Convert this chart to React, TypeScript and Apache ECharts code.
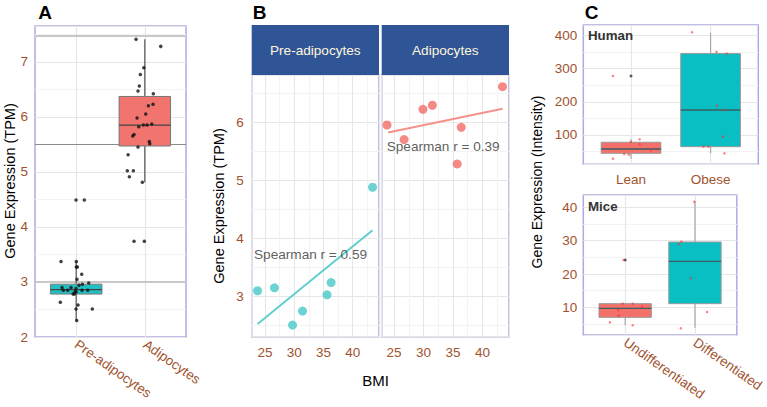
import React, { useEffect, useRef } from 'react';
import * as echarts from 'echarts';

// ---------- Panel A ----------
const groupsA = ['Pre-adipocytes', 'Adipocytes'];
// [lo, q1, median, q3, hi]
const boxPreA = [2.30, 2.78, 2.86, 2.96, 3.37];
const boxAdiA = [4.81, 5.47, 5.85, 6.37, 7.41];
const jitterPreA: number[][] = [
  [0.998, 4.49], [1.119, 4.49], [0.779, 3.37], [1.002, 3.37], [1.002, 3.27], [1.017, 3.27],
  [1.081, 3.14], [1.012, 3.05], [1.183, 2.98], [1.09, 2.96], [1.041, 2.94], [0.794, 2.90],
  [0.925, 2.90], [0.998, 2.88], [0.813, 2.85], [0.877, 2.85], [1.085, 2.85], [1.168, 2.85],
  [0.983, 2.82], [0.998, 2.82], [0.954, 2.78], [0.973, 2.78], [0.769, 2.63], [1.027, 2.58],
  [1.235, 2.51], [0.998, 2.51], [1.008, 2.30],
];
const jitterAdiA: number[][] = [
  [1.872, 7.41], [2.232, 7.28], [1.985, 6.89], [1.935, 6.77], [1.920, 6.56], [1.901, 6.47],
  [2.124, 6.42], [2.120, 6.23], [2.052, 6.20], [2.014, 6.05], [1.887, 5.98], [2.101, 5.87],
  [2.033, 5.85], [1.979, 5.85], [1.912, 5.82], [1.843, 5.68], [1.824, 5.65], [2.066, 5.55],
  [2.072, 5.51], [1.901, 5.45], [1.756, 5.31], [1.745, 5.02], [1.833, 5.02], [1.775, 4.91],
  [1.964, 4.81], [1.843, 3.74], [1.993, 3.74],
];
const refLinesA = [7.47, 5.5, 3.0];

// ---------- Panel B ----------
const facetsB = ['Pre-adipocytes', 'Adipocytes'];
const bmiPre = [23.7, 26.6, 29.7, 31.4, 35.6, 36.3, 43.4];
const exprPre = [3.10, 3.15, 2.51, 2.75, 3.03, 3.24, 4.88];
const bmiAdi = [23.8, 26.7, 29.9, 31.5, 36.4, 35.7, 43.4];
const exprAdi = [5.95, 5.70, 6.22, 6.29, 5.91, 5.28, 6.61];
const fitPre = [[23.7, 2.53], [43.4, 4.14]];
const fitAdi = [[24.0, 5.82], [43.4, 6.23]];
const rPre = 0.59;
const rAdi = 0.39;
const labelPosPre = [23.1, 3.72];
const labelPosAdi = [23.75, 5.58];

// ---------- Panel C ----------
const groupsHuman = ['Lean', 'Obese'];
const boxLean = [28.4, 44.7, 57.7, 78, 87];
const boxObese = [44.7, 64.7, 175.5, 345.6, 408];
const jitterLean: number[][] = [
  [0.773, 278], [0.998, 79], [1.108, 87], [1.108, 72], [0.914, 42.6], [0.973, 40.5], [0.773, 28.4], [1.249, 53.8],
];
const jitterObese: number[][] = [
  [1.768, 410], [2.074, 351], [2.203, 346], [2.081, 188.5], [2.165, 175.5], [2.157, 95], [1.911, 64.7], [1.973, 64.7], [2.174, 44.7],
];
const outliersHuman = [[1, 278]];

const groupsMice = ['Undifferentiated', 'Differentiated'];
const boxUndiff = [4.6, 7.0, 9.7, 11.1, 11.1];
const boxDiff = [3.9, 11.1, 23.8, 29.6, 41.7];
const jitterUndiff: number[][] = [
  [0.977, 24.2], [0.965, 11.1], [1.108, 11.1], [1.241, 10.2], [0.898, 9.2], [0.907, 7.5], [0.781, 5.5], [1.108, 4.6],
];
const jitterDiff: number[][] = [
  [1.99, 41.7], [1.805, 29.7], [1.768, 28.9], [1.94, 18.7], [2.174, 8.6], [1.798, 3.7],
];
const outliersMice = [[1, 24.2]];

const FONT = 'Liberation Sans, Arial, sans-serif';
const BROWN = '#A0522D';
const SALMON = '#F1756E';
const TEAL = '#22BFC2';
const BORDER = '#ABABE3';
const GRIDC = '#E6E6E6';
const MINORC = '#F3F3F3';

function boxRender(colors: string[], stroke: string, whisker: string, median: string) {
  return (params: any, api: any) => {
    const x = api.value(0);
    const lo = api.value(1), q1 = api.value(2), med = api.value(3), q3 = api.value(4), hi = api.value(5);
    const hw = 0.375;
    const a = api.coord([x - hw, q3]);
    const b = api.coord([x + hw, q1]);
    const m1 = api.coord([x - hw, med]);
    const m2 = api.coord([x + hw, med]);
    const t = api.coord([x, hi]);
    const tq = api.coord([x, q3]);
    const bq = api.coord([x, q1]);
    const bl = api.coord([x, lo]);
    return {
      type: 'group',
      children: [
        { type: 'line', shape: { x1: t[0], y1: t[1], x2: tq[0], y2: tq[1] }, style: { stroke: whisker, lineWidth: 1.2 } },
        { type: 'line', shape: { x1: bq[0], y1: bq[1], x2: bl[0], y2: bl[1] }, style: { stroke: whisker, lineWidth: 1.2 } },
        { type: 'rect', shape: { x: a[0], y: a[1], width: b[0] - a[0], height: b[1] - a[1] }, style: { fill: colors[params.dataIndex], stroke, lineWidth: 1 } },
        { type: 'line', shape: { x1: m1[0], y1: m1[1], x2: m2[0], y2: m2[1] }, style: { stroke: median, lineWidth: 1.4 } },
      ],
    };
  };
}

function catAxis(gridIndex: number, names: string[], rotate: number, margin: number) {
  return {
    type: 'value', gridIndex, min: 0.4, max: 2.6,
    axisLine: { show: false },
    axisTick: { show: false, customValues: [1, 2] },
    splitLine: { show: false },
    axisLabel: {
      customValues: [1, 2],
      formatter: (v: number) => names[Math.round(v) - 1] ?? '',
      rotate, color: BROWN, fontSize: 13.5, fontFamily: FONT, margin,
    },
  };
}

function valAxis(gridIndex: number, min: number, max: number, step: number, showLabels: boolean, margin: number) {
  return {
    type: 'value', gridIndex, min, max,
    axisLine: { show: false },
    axisTick: { show: false },
    minorTick: { show: false, splitNumber: 2 },
    splitLine: { show: true, lineStyle: { color: GRIDC, width: 1 } },
    minorSplitLine: { show: true, lineStyle: { color: MINORC, width: 1 } },
    axisLabel: {
      show: showLabels,
      formatter: (v: number) => {
        const k = v / step;
        return Math.abs(k - Math.round(k)) < 1e-6 ? String(Math.round(v)) : '';
      },
      color: BROWN, fontSize: 13.5, fontFamily: FONT, margin,
      hideOverlap: false,
    },
  };
}

function vGrid(xs: number[]) {
  return {
    silent: true, symbol: 'none', z: 1, label: { show: false },
    lineStyle: { color: GRIDC, width: 1.2, type: 'solid' },
    data: xs.map((x) => ({ xAxis: x, lineStyle: { color: GRIDC, width: 1.2, type: 'solid' } })),
  };
}

export default function App() {
  const ref = useRef<HTMLDivElement>(null);
  useEffect(() => {
    if (!ref.current) return;
    const chart = echarts.init(ref.current, undefined, { renderer: 'svg' });
    const gridBase = { show: true, backgroundColor: '#fff', borderColor: BORDER, borderWidth: 1.5, containLabel: false };
    const bAxisX = (gridIndex: number, min: number) => ({
      type: 'value', gridIndex, min, max: 44.5,
      axisLine: { show: false }, axisTick: { show: false },
      minorTick: { show: false, splitNumber: 2 },
      splitLine: { lineStyle: { color: GRIDC } }, minorSplitLine: { show: true, lineStyle: { color: MINORC } },
      axisLabel: { color: BROWN, fontSize: 13.5, fontFamily: FONT, margin: 9, formatter: (v: number) => (v % 5 === 0 ? String(v) : '') },
    });
    const txt = (x: number, y: number, text: string, font: string, extra: any = {}) => ({
      type: 'text', x, y, z: 100, ...extra,
      style: { text, font, fill: '#000', align: 'center', verticalAlign: 'middle', ...(extra.style || {}) },
    });
    const option: any = {
      animation: false,
      backgroundColor: '#fff',
      textStyle: { fontFamily: FONT },
      grid: [
        { ...gridBase, left: 35, top: 26, width: 151, height: 311 },
        { ...gridBase, left: 251.7, top: 75, width: 127.3, height: 261.7 },
        { ...gridBase, left: 381.7, top: 75, width: 127.3, height: 261.7 },
        { ...gridBase, left: 583.3, top: 25, width: 175, height: 139.3 },
        { ...gridBase, left: 583.3, top: 195, width: 175, height: 140 },
      ],
      xAxis: [
        catAxis(0, groupsA, -35, 6),
        bAxisX(1, 22.7),
        bAxisX(2, 22.9),
        catAxis(3, groupsHuman, 0, 8),
        catAxis(4, groupsMice, -35, 6),
      ],
      yAxis: [
        { ...valAxis(0, 2, 7.65, 1, true, 7), interval: 1 },
        valAxis(1, 2.31, 6.81, 1, true, 8),
        valAxis(2, 2.31, 6.81, 1, false, 8),
        valAxis(3, 11.5, 432, 100, true, 6),
        valAxis(4, 1.7, 43.7, 10, true, 6),
      ],
      series: [
        // ---- A ----
        {
          type: 'custom', xAxisIndex: 0, yAxisIndex: 0, z: 2,
          renderItem: boxRender([TEAL, SALMON], '#777', '#555', '#444'),
          encode: { x: 0, y: [1, 2, 3, 4, 5] },
          data: [[1, ...boxPreA], [2, ...boxAdiA]],
        },
        {
          type: 'scatter', xAxisIndex: 0, yAxisIndex: 0, z: 3, symbolSize: 3.5,
          itemStyle: { color: '#111' }, data: [...jitterPreA, ...jitterAdiA],
          markLine: {
            silent: true, symbol: 'none', z: 1, label: { show: false },
            lineStyle: { type: 'solid' },
            data: [
              ...vGrid([1, 2]).data,
              { yAxis: refLinesA[0], lineStyle: { color: '#C8C8C8', width: 2, type: 'solid' } },
              { yAxis: refLinesA[1], lineStyle: { color: '#8A8A8A', width: 1, type: 'solid' } },
              { yAxis: refLinesA[2], lineStyle: { color: '#C8C8C8', width: 2, type: 'solid' } },
            ],
          },
        },
        // ---- B ----
        {
          type: 'line', xAxisIndex: 1, yAxisIndex: 1, symbol: 'none', z: 2,
          lineStyle: { color: '#62CFCF', width: 2 }, data: fitPre,
        },
        {
          type: 'scatter', xAxisIndex: 1, yAxisIndex: 1, z: 3, symbolSize: 9,
          itemStyle: { color: '#47C7C7' }, data: bmiPre.map((b, i) => [b, exprPre[i]]),
        },
        {
          type: 'scatter', xAxisIndex: 1, yAxisIndex: 1, z: 4, symbolSize: 0,
          data: [labelPosPre],
          label: { show: true, position: 'right', distance: 0, color: '#333', fontSize: 13.6, fontFamily: FONT, formatter: () => `Spearman r = ${rPre.toFixed(2)}` },
        },
        {
          type: 'line', xAxisIndex: 2, yAxisIndex: 2, symbol: 'none', z: 2,
          lineStyle: { color: '#F4928B', width: 2 }, data: fitAdi,
        },
        {
          type: 'scatter', xAxisIndex: 2, yAxisIndex: 2, z: 3, symbolSize: 9,
          itemStyle: { color: '#F26C66' }, data: bmiAdi.map((b, i) => [b, exprAdi[i]]),
        },
        {
          type: 'scatter', xAxisIndex: 2, yAxisIndex: 2, z: 4, symbolSize: 0,
          data: [labelPosAdi],
          label: { show: true, position: 'right', distance: 0, color: '#333', fontSize: 13.6, fontFamily: FONT, formatter: () => `Spearman r = ${rAdi.toFixed(2)}` },
        },
        // ---- C top ----
        {
          type: 'custom', xAxisIndex: 3, yAxisIndex: 3, z: 2,
          renderItem: boxRender(['#F4716B', '#0ABFC4'], '#999', '#A8A8A8', '#3A5F5F'),
          encode: { x: 0, y: [1, 2, 3, 4, 5] },
          data: [[1, ...boxLean], [2, ...boxObese]],
        },
        {
          type: 'scatter', xAxisIndex: 3, yAxisIndex: 3, z: 3, symbolSize: 3,
          itemStyle: { color: '#333' }, data: outliersHuman,
          markLine: vGrid([1, 2]),
        },
        {
          type: 'scatter', xAxisIndex: 3, yAxisIndex: 3, z: 4, symbolSize: 2.5,
          itemStyle: { color: 'rgba(255,40,40,0.75)' }, data: [...jitterLean, ...jitterObese],
        },
        // ---- C bottom ----
        {
          type: 'custom', xAxisIndex: 4, yAxisIndex: 4, z: 2,
          renderItem: boxRender(['#F4716B', '#0ABFC4'], '#999', '#A8A8A8', '#3A5F5F'),
          encode: { x: 0, y: [1, 2, 3, 4, 5] },
          data: [[1, ...boxUndiff], [2, ...boxDiff]],
        },
        {
          type: 'scatter', xAxisIndex: 4, yAxisIndex: 4, z: 3, symbolSize: 3,
          itemStyle: { color: '#333' }, data: outliersMice,
          markLine: vGrid([1, 2]),
        },
        {
          type: 'scatter', xAxisIndex: 4, yAxisIndex: 4, z: 4, symbolSize: 2.5,
          itemStyle: { color: 'rgba(255,40,40,0.75)' }, data: [...jitterUndiff, ...jitterDiff],
        },
      ],
      graphic: [
        txt(45, 12, 'A', `bold 19px ${FONT}`),
        txt(259.5, 12, 'B', `bold 19px ${FONT}`),
        txt(591.5, 12, 'C', `bold 19px ${FONT}`),
        txt(10, 181, 'Gene Expression (TPM)', `14.5px ${FONT}`, { rotation: Math.PI / 2 }),
        txt(219, 206, 'Gene Expression (TPM)', `14.5px ${FONT}`, { rotation: Math.PI / 2 }),
        txt(375.5, 380, 'BMI', `15px ${FONT}`),
        txt(537, 182, 'Gene Expression (Intensity)', `14px ${FONT}`, { rotation: Math.PI / 2 }),
        { type: 'rect', z: 90, shape: { x: 251.7, y: 25, width: 127.3, height: 50 }, style: { fill: '#2F5597' } },
        { type: 'rect', z: 90, shape: { x: 381.7, y: 25, width: 127.3, height: 50 }, style: { fill: '#2F5597' } },
        txt(315.3, 50, facetsB[0], `13.6px ${FONT}`, { style: { fill: '#FFF6DA' } }),
        txt(445.3, 50, facetsB[1], `13.6px ${FONT}`, { style: { fill: '#FFF6DA' } }),
        txt(588, 35, 'Human', `bold 13.3px ${FONT}`, { style: { fill: '#333', align: 'left' } }),
        txt(588, 206.7, 'Mice', `bold 13.3px ${FONT}`, { style: { fill: '#333', align: 'left' } }),
      ],
    };
    chart.setOption(option);
    return () => chart.dispose();
  }, []);
  return <div ref={ref} style={{ position: 'absolute', left: 0, top: 0, width: 767, height: 407 }} />;
}
